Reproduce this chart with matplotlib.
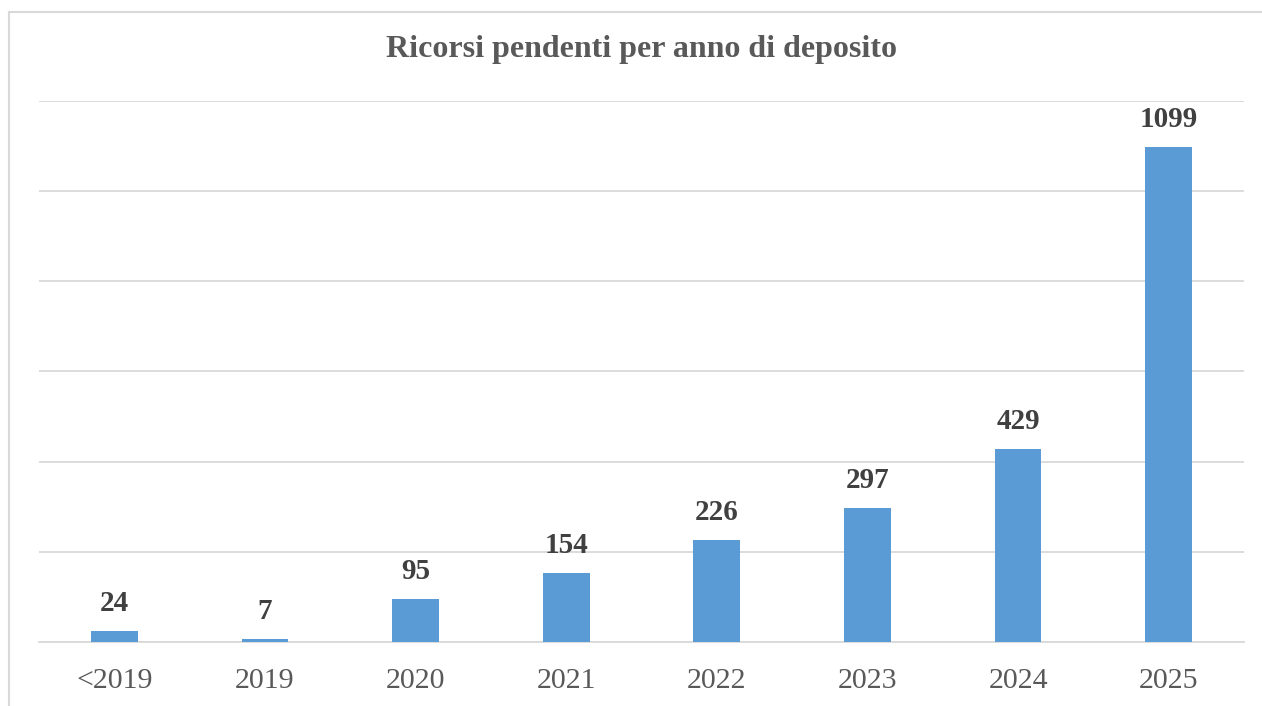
import matplotlib
matplotlib.use("Agg")
import matplotlib.pyplot as plt

categories = ["<2019", "2019", "2020", "2021", "2022", "2023", "2024", "2025"]
values = [24, 7, 95, 154, 226, 297, 429, 1099]
title = "Ricorsi pendenti per anno di deposito"

W, H = 1262, 706
fig = plt.figure(figsize=(W / 100, H / 100), dpi=100)
fig.patch.set_facecolor("white")

# chart border (only top and left visible)
fig.add_artist(plt.Line2D([9 / W, 9 / W], [0, 1 - 12 / H], transform=fig.transFigure,
                          color="#d9d9d9", lw=1.5))
fig.add_artist(plt.Line2D([9 / W, 1], [1 - 12 / H, 1 - 12 / H], transform=fig.transFigure,
                          color="#d9d9d9", lw=1.5))

left, right = 39, 1244
top, bottom = 101, 642
ax = fig.add_axes([left / W, 1 - bottom / H, (right - left) / W, (bottom - top) / H])
x = range(len(categories))
ax.bar(x, values, width=0.31, color="#5b9bd5", zorder=3)
ax.set_xlim(-0.5, len(categories) - 0.5)
ax.set_ylim(0, 1200)
ax.set_yticks(range(0, 1201, 200))
ax.yaxis.grid(True, color="#d9d9d9", lw=1.3, zorder=0)
ax.tick_params(axis="y", left=False, labelleft=False)
ax.tick_params(axis="x", bottom=False, pad=15)
ax.set_xticks(list(x))
ax.set_xticklabels(categories, family="Liberation Serif", fontsize=21.5, color="#595959")
for s in ["top", "right", "left"]:
    ax.spines[s].set_visible(False)
ax.spines["bottom"].set_color("#d9d9d9")
ax.spines["bottom"].set_linewidth(1.3)

for xi, v in zip(x, values):
    ax.annotate(str(v), (xi, v), xytext=(0, 10), textcoords="offset points",
                ha="center", va="bottom", family="Liberation Serif",
                fontsize=21, fontweight="bold", color="#404040")

fig.text(641 / W, 1 - 49 / H, title, ha="center", va="center", family="Liberation Serif",
         fontsize=23, fontweight="bold", color="#595959")

fig.savefig("out.png", dpi=100)
